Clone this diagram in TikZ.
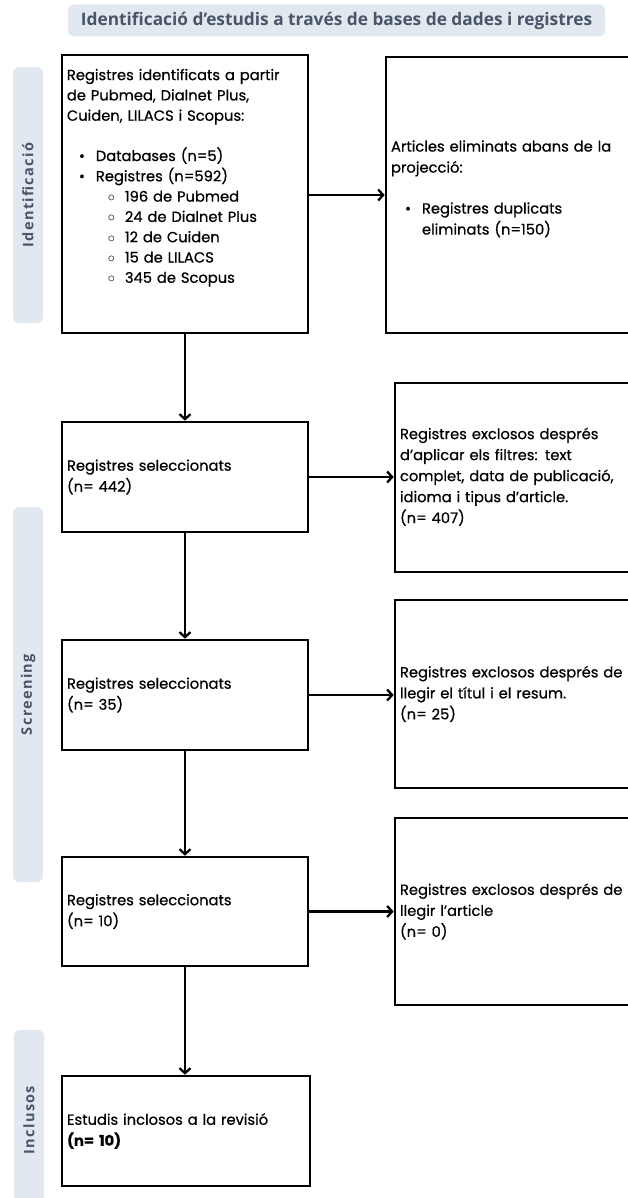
\documentclass[tikz,border=0pt]{standalone}
\usepackage{fontspec}
\setmainfont{Poppins}[FakeBold=0.6]
\newfontfamily\headfont{Open Sans}
\newfontfamily\phasefont[LetterSpace=9]{Open Sans}
\usetikzlibrary{arrows.meta,positioning}
\definecolor{phasebg}{HTML}{E2E8F0}
\definecolor{phasetxt}{HTML}{4A5568}

\begin{document}
\begin{tikzpicture}[x=1pt,y=-1pt,
    box/.style={draw,line width=2.6pt,rectangle,align=left,inner xsep=5pt,inner ysep=2pt,
      text width=236pt,minimum height=110pt,font=\fontsize{14.7}{21}\selectfont},
    sidebox/.style={box,text width=235pt,minimum height=188pt},
    phase/.style={fill=phasebg,rounded corners=6pt,minimum height=30pt,inner sep=0pt,
      text=phasetxt,font=\phasefont\bfseries\fontsize{14.5}{16}\selectfont},
    flow/.style={line width=2.3pt,-{Straight Barb[length=5pt,width=11pt]}}
  ]
  \useasboundingbox (0,0) rectangle (628,1198);
  \clip (0,0) rectangle (628,1198);

  % title and phases
  \node [phase,minimum width=537pt,minimum height=32pt,
    font=\headfont\bfseries\fontsize{17.3}{19}\selectfont] (title) at (336.5,20.5)
    {Identificació d’estudis a través de bases de dades i registres};
  \node [phase,rotate=90,minimum width=256pt] (ident) at (28,195) {Identificació};
  \node [phase,rotate=90,minimum width=375pt] (screen) at (28,694.5) {Screening};
  \node [phase,rotate=90,minimum width=180pt] (incl) at (29,1120) {Inclusos};

  % main column
  \node [box,minimum height=278pt] (reg) at (185,194) {};
  \node [anchor=north west,inner sep=0pt,align=left,text width=236pt,
    font=\fontsize{14.7}{20.3}\selectfont] (regtext) at ([xshift=6pt,yshift=-15pt]reg.north west)
    {Registres identificats a partir\\
     de Pubmed, Dialnet Plus,\\
     Cuiden, LILACS i Scopus:\\[20pt]
     \hspace*{12pt}\makebox[17pt][l]{\textbullet}Databases (n=5)\\
     \hspace*{12pt}\makebox[17pt][l]{\textbullet}Registres (n=592)\\
     \hspace*{41pt}\makebox[17pt][l]{$\circ$}196 de Pubmed\\
     \hspace*{41pt}\makebox[17pt][l]{$\circ$}24 de Dialnet Plus\\
     \hspace*{41pt}\makebox[17pt][l]{$\circ$}12 de Cuiden\\
     \hspace*{41pt}\makebox[17pt][l]{$\circ$}15 de LILACS\\
     \hspace*{41pt}\makebox[17pt][l]{$\circ$}345 de Scopus};
  \node [box] (sel1) at (185,477) {Registres seleccionats\\(n= 442)};
  \node [box] (sel2) at (185,695) {Registres seleccionats\\(n= 35)};
  \node [box,minimum height=109pt] (sel3) at (185,911.5) {Registres seleccionats\\(n= 10)};
  \node [box,text width=238pt] (final) at (186,1131) {Estudis inclosos a la revisió\\\textbf{(n= 10)}};

  % right column
  \node [sidebox,text width=244pt,minimum height=276pt] (dup) at (513,195)
    {Articles eliminats abans de la\\
     projecció:\\[20pt]
     \hspace*{14pt}\makebox[17pt][l]{\textbullet}Registres duplicats\\
     \hspace*{31pt}eliminats (n=150)\\[-6pt]\mbox{}};
  \node [sidebox,minimum height=189pt] (excl1) at (517.5,477.5)
    {\mbox{}\\[-11pt]
     Registres exclosos després\\
     d’aplicar els filtres: text\\
     complet, data de publicació,\\
     idioma i tipus d’article.\\
     (n= 407)};
  \node [sidebox] (excl2) at (517.5,694)
    {Registres exclosos després de\\
     llegir el títul i el resum.\\
     (n= 25)};
  \node [sidebox,minimum height=187pt] (excl3) at (517.5,911.5)
    {Registres exclosos després de\\
     llegir l’article\\
     (n= 0)};

  % arrows
  \draw [flow] (reg) -- (sel1);
  \draw [flow] (sel1) -- (sel2);
  \draw [flow] (sel2) -- (sel3);
  \draw [flow] (sel3.south) -- (sel3.south |- final.north);
  \draw [flow] (reg.east |- dup.west) -- (dup.west);
  \draw [flow] (sel1.east) -- (sel1.east -| excl1.west);
  \draw [flow] (sel2.east) -- (sel2.east -| excl2.west);
  \draw [flow] (sel3.east) -- (sel3.east -| excl3.west);
\end{tikzpicture}
\end{document}
